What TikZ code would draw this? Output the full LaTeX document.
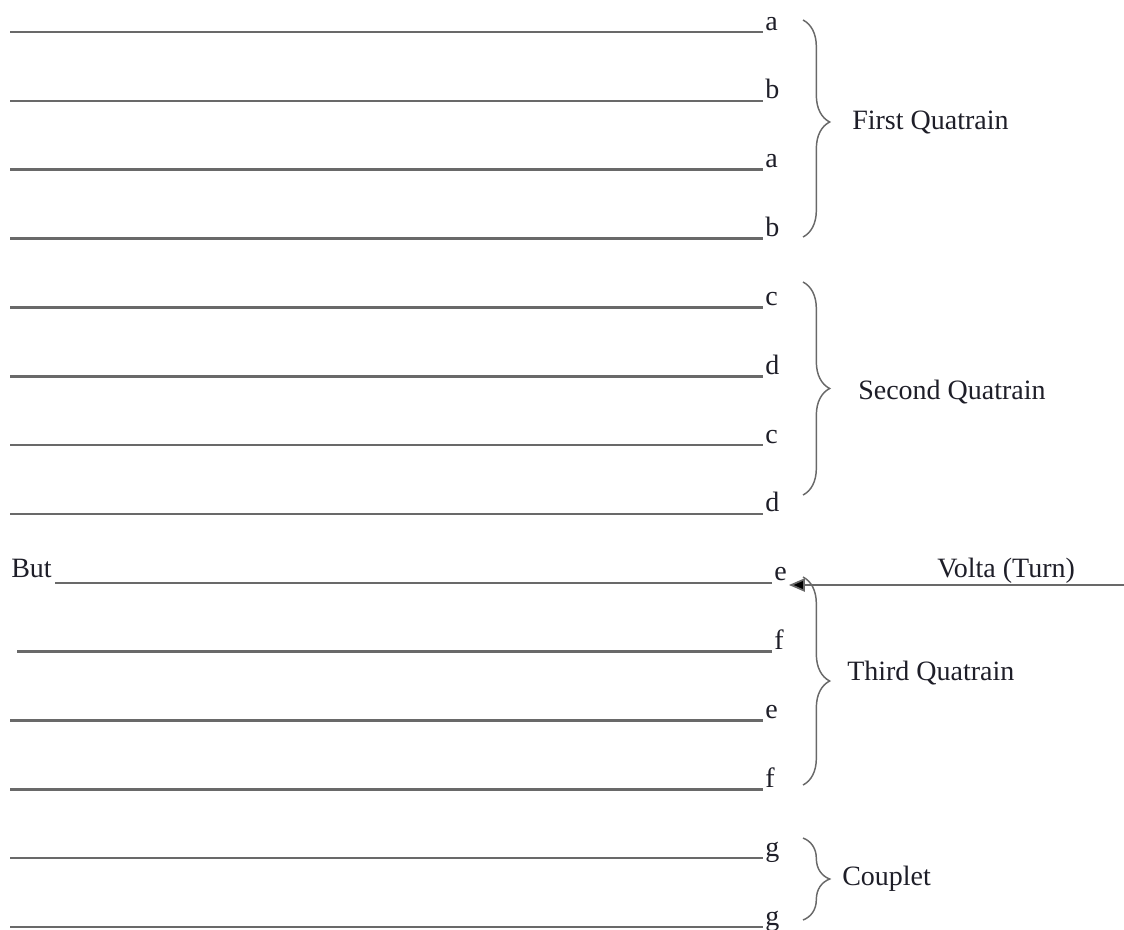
\documentclass[tikz,border=0pt]{standalone}
\usepackage{fontspec}
\setmainfont{Liberation Serif}
\usetikzlibrary{arrows.meta,decorations.pathreplacing}
\definecolor{rulegray}{RGB}{105,105,105}
\definecolor{inkdark}{RGB}{30,30,40}

\begin{document}
\begin{tikzpicture}[x=0.75pt,y=-0.75pt,font=\fontsize{21}{25}\selectfont,
    verse/.style={rulegray,line width=1.9pt},
    rhyme/.style={inkdark,inner sep=1.5pt,anchor=base west},
    stanzabrace/.style={rulegray,line width=1.1pt,decorate,
      decoration={brace,amplitude=20pt,aspect=#1}},
    stanzabrace/.default=0.5,
    tag/.style={inkdark,anchor=west,inner sep=0pt}]
      \useasboundingbox (0,0) rectangle (1124,929);

      % fourteen lines with their rhyme letters
      \foreach \i/\r/\xs/\xe in {0/a/10/763,1/b/10/763,2/a/10/763,3/b/10/763,
          4/c/10/763,5/d/10/763,6/c/10/763,7/d/10/763,
          8/e/55/772,9/f/17/772,10/e/10/763,11/f/10/763,
          12/g/10/763,13/g/10/763} {
        \coordinate (s\i) at (\xs,32+68.85*\i);
        \coordinate (e\i) at (\xe,32+68.85*\i);
        \draw[verse] (s\i) -- (e\i);
        \node[rhyme] (r\i) at (\xe,30+68.85*\i) {\r};
      }
      \node[inkdark,anchor=base west,inner sep=0pt] (but) at (11,577) {But};

      % braces round the stanzas
      \draw[stanzabrace=0.47] (803,20) -- (803,237);
      \draw[stanzabrace] (803,282) -- (803,495);
      \draw[stanzabrace] (803,577) -- (803,785);
      \draw[stanzabrace] (803,838) -- (803,920);

      \node[tag] (firstq) at (852,122) {First Quatrain};
      \node[tag] (secondq) at (858,392) {Second Quatrain};
      \node[tag] (thirdq) at (847,673) {Third Quatrain};
      \node[tag] (couplet) at (842,879) {Couplet};

      % the turn
      \coordinate (vstart) at (1124,585);
      \draw[rulegray,line width=1.3pt,-{Triangle[length=12pt,width=10pt,fill=black]}]
        (vstart) -- (r8.east |- vstart);
      \node[inkdark,anchor=base west,inner sep=0pt] (volta) at (937,577) {Volta (Turn)};
    \end{tikzpicture}
\end{document}
